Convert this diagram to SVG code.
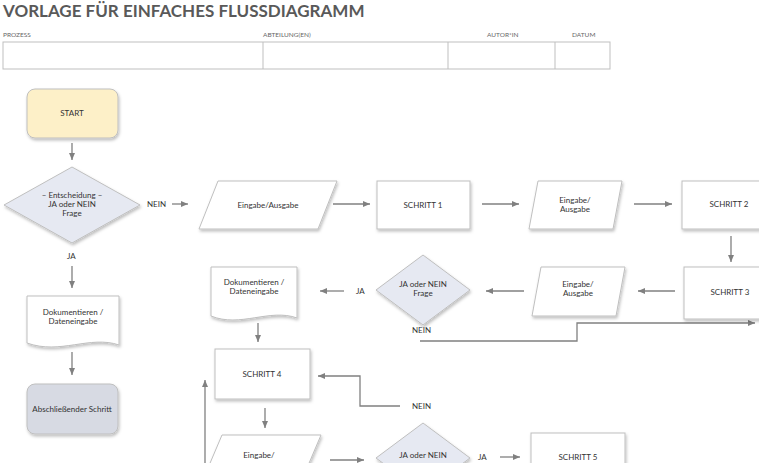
<svg xmlns="http://www.w3.org/2000/svg" width="759" height="463" viewBox="0 0 759 463">
<defs>
<marker id="ah" markerWidth="8" markerHeight="8" refX="7" refY="4" orient="auto" markerUnits="userSpaceOnUse"><path d="M0,1 L7,4 L0,7 Z" fill="#808080"/></marker>
<filter id="sh" x="-20%" y="-20%" width="140%" height="140%"><feDropShadow dx="1" dy="2" stdDeviation="1.5" flood-color="#000" flood-opacity="0.25"/></filter>
</defs>
<style>
text{font-family:Lato,"Liberation Sans",sans-serif;fill:#333;}
.t{font-size:8px;text-anchor:middle;}
.l{font-size:8px;fill:#333;}
.h{font-size:6.5px;fill:#666;}
.n{stroke:#bfbfbf;stroke-width:1;filter:url(#sh);}
.w{fill:#fff;}
.d{fill:#e6e9f2;}
.c path{fill:none;stroke:#808080;stroke-width:1.3;marker-end:url(#ah);}
</style>
<rect width="759" height="463" fill="#fff"/>
<text x="3" y="17" style="font-size:17px;font-weight:bold;fill:#595959">VORLAGE FÜR EINFACHES FLUSSDIAGRAMM</text>
<text class="h" x="3" y="37">PROZESS</text>
<text class="h" x="263" y="37">ABTEILUNG(EN)</text>
<text class="h" x="487" y="37">AUTOR*IN</text>
<text class="h" x="572" y="37">DATUM</text>
<rect x="3" y="42" width="607" height="27" fill="#fff" stroke="#bfbfbf"/>
<path d="M263,42V69M448,42V69M555,42V69" stroke="#bfbfbf"/>

<g class="c">
<path d="M72,143V160"/>
<path d="M172,204H188"/>
<path d="M333,204H370"/>
<path d="M482,204H519"/>
<path d="M634,204H672"/>
<path d="M731,236V262"/>
<path d="M675,291H638"/>
<path d="M524,291H486"/>
<path d="M344,291H320"/>
<path d="M420,341H577V323H755"/>
<path d="M258,323V342"/>
<path d="M400,406H360V376H318"/>
<path d="M265,408V428"/>
<path d="M330,460H364"/>
<path d="M500,457H520"/>
<path d="M205,463V380"/>
<path d="M72,266V288"/>
<path d="M72,352V375"/>
</g>

<g id="start"><rect class="n" x="27" y="89" width="91" height="49" rx="8" fill="#fdf0c8"/><text class="t" x="72" y="116">START</text></g>
<g id="dec1"><path class="n d" d="M72,167L140,205L72,243L4,205Z"/><text class="t" x="72" y="198">– Entscheidung –</text><text class="t" x="72" y="207">JA oder NEIN</text><text class="t" x="72" y="216">Frage</text></g>
<text class="l" x="147" y="207">NEIN</text>
<text class="l" x="67" y="259">JA</text>
<g id="io1"><path class="n w" d="M218,181H337L318,229H199Z"/><text class="t" x="268" y="208">Eingabe/Ausgabe</text></g>
<g id="s1"><rect class="n w" x="377" y="181" width="93" height="48"/><text class="t" x="423" y="208">SCHRITT 1</text></g>
<g id="io2"><path class="n w" d="M538,181H622L613,229H529Z"/><text class="t" x="575" y="203">Eingabe/</text><text class="t" x="575" y="212">Ausgabe</text></g>
<g id="s2"><rect class="n w" x="682" y="181" width="90" height="48"/><text class="t" x="729" y="207">SCHRITT 2</text></g>
<g id="s3"><rect class="n w" x="684" y="267" width="90" height="52"/><text class="t" x="730" y="295">SCHRITT 3</text></g>
<g id="io3"><path class="n w" d="M541,267H625L616,316H532Z"/><text class="t" x="578" y="287">Eingabe/</text><text class="t" x="578" y="296">Ausgabe</text></g>
<g id="dec2"><path class="n d" d="M423,255L470,290L423,325L376,290Z"/><text class="t" x="423" y="287">JA oder NEIN</text><text class="t" x="423" y="296">Frage</text></g>
<text class="l" x="356" y="294">JA</text>
<text class="l" x="412" y="333">NEIN</text>
<g id="doc2"><path class="n w" d="M211,267H297V318C270,308 240,328 211,316Z"/><text class="t" x="254" y="285">Dokumentieren /</text><text class="t" x="254" y="294">Dateneingabe</text></g>
<g id="s4"><rect class="n w" x="215" y="349" width="95" height="50"/><text class="t" x="262" y="377">SCHRITT 4</text></g>
<text class="l" x="412" y="409">NEIN</text>
<g id="io4"><path class="n w" d="M222,435H321L304,475H205Z"/><text class="t" x="259" y="458">Eingabe/</text></g>
<g id="dec3"><path class="n d" d="M423,423L470,458L423,493L376,458Z"/><text class="t" x="423" y="458">JA oder NEIN</text></g>
<text class="l" x="478" y="460">JA</text>
<g id="s5"><rect class="n w" x="531" y="433" width="94" height="45"/><text class="t" x="578" y="460">SCHRITT 5</text></g>
<g id="doc1"><path class="n w" d="M27,296H119V345C90,335 60,355 27,343Z"/><text class="t" x="73" y="315">Dokumentieren /</text><text class="t" x="73" y="324">Dateneingabe</text></g>
<g id="end"><rect class="n" x="27" y="384" width="91" height="50" rx="8" fill="#d7dae3"/><text class="t" x="72" y="412">Abschließender Schritt</text></g>
</svg>
